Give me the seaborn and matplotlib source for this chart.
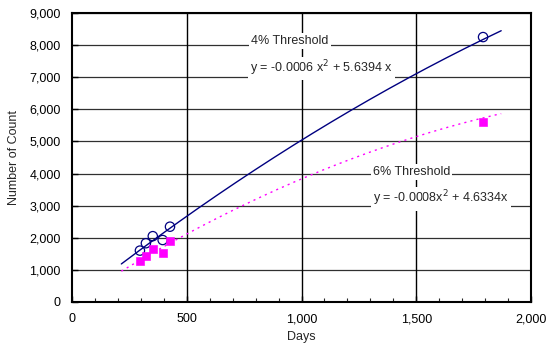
import numpy as np
import pandas as pd
import matplotlib
matplotlib.use("Agg")
import matplotlib.pyplot as plt
import seaborn as sns
from matplotlib.ticker import MultipleLocator, FuncFormatter

# Data
days = [296, 322, 352, 395, 427, 1791]
count_4pct = [1600, 1830, 2050, 1930, 2345, 8250]
count_6pct = [1280, 1440, 1640, 1535, 1900, 5600]

# Trendline coefficients as printed on the chart (y = a x^2 + b x)
coef_4pct = [-0.0006, 5.6394]
coef_6pct = [-0.0008, 4.6334]
trend_range = [215, 1870]

sns.set_theme(style="white")
plt.rcParams["font.family"] = ["Liberation Sans", "DejaVu Sans"]

df = pd.DataFrame({"Days": days, "4%": count_4pct, "6%": count_6pct})
xt = np.linspace(trend_range[0], trend_range[1], 200)
trend = pd.DataFrame({
    "Days": xt,
    "4%": coef_4pct[0] * xt ** 2 + coef_4pct[1] * xt,
    "6%": coef_6pct[0] * xt ** 2 + coef_6pct[1] * xt,
})

fig = plt.figure(figsize=(5.47, 3.53), dpi=100)
ax = fig.add_axes([0.1316, 0.1445, 0.8392, 0.8187])

# gridlines
for yv in range(1000, 9001, 1000):
    ax.axhline(yv, color="#303030", lw=0.9, zorder=0)
for xv in [500, 1000, 1500]:
    ax.axvline(xv, color="black", lw=1.0, zorder=0)

# trendlines
sns.lineplot(data=trend, x="Days", y="4%", ax=ax, color="#000080", lw=1.0, zorder=2)
sns.lineplot(data=trend, x="Days", y="6%", ax=ax, color="#FF00FF", lw=1.0,
             linestyle=(0, (1.5, 3)), zorder=2)

# points
sns.scatterplot(data=df, x="Days", y="4%", ax=ax, marker="o", s=45,
                facecolor="none", edgecolor="#000080", linewidth=0.9, zorder=3)
sns.scatterplot(data=df, x="Days", y="6%", ax=ax, marker="s", s=30,
                color="#FF00FF", edgecolor="#FF00FF", zorder=3)

ax.set_xlim(0, 2000)
ax.set_ylim(0, 9000)
ax.xaxis.set_major_locator(MultipleLocator(500))
ax.xaxis.set_minor_locator(MultipleLocator(100))
ax.yaxis.set_major_locator(MultipleLocator(1000))
fmt = FuncFormatter(lambda v, p: f"{int(v):,}")
ax.xaxis.set_major_formatter(fmt)
ax.yaxis.set_major_formatter(fmt)
ax.tick_params(axis="both", which="major", direction="in", length=4, width=1,
               labelsize=9, colors="black", pad=8)
ax.tick_params(axis="x", which="minor", direction="in", length=3, width=0.8,
               bottom=True)
ax.tick_params(axis="x", which="major", bottom=True)
ax.tick_params(axis="y", which="major", left=True)

for sp in ax.spines.values():
    sp.set_color("black")
    sp.set_linewidth(1.5)

ax.set_xlabel("Days", fontsize=9, labelpad=4)
ax.set_ylabel("Number of Count", fontsize=9, labelpad=7)

box = dict(facecolor="white", edgecolor="none", pad=1.5)
ax.text(780, 8120, "4% Threshold", fontsize=9, va="center", ha="left", bbox=box, zorder=4)
ax.text(775, 7270, "y = -0.0006 x$^2$ + 5.6394 x", fontsize=9, va="center",
        ha="left", bbox=box, zorder=4)
ax.text(1310, 4040, "6% Threshold", fontsize=9, va="center", ha="left", bbox=box, zorder=4)
ax.text(1310, 3220, "y = -0.0008x$^2$ + 4.6334x", fontsize=9, va="center",
        ha="left", bbox=box, zorder=4)

fig.savefig("out.png", dpi=100)
